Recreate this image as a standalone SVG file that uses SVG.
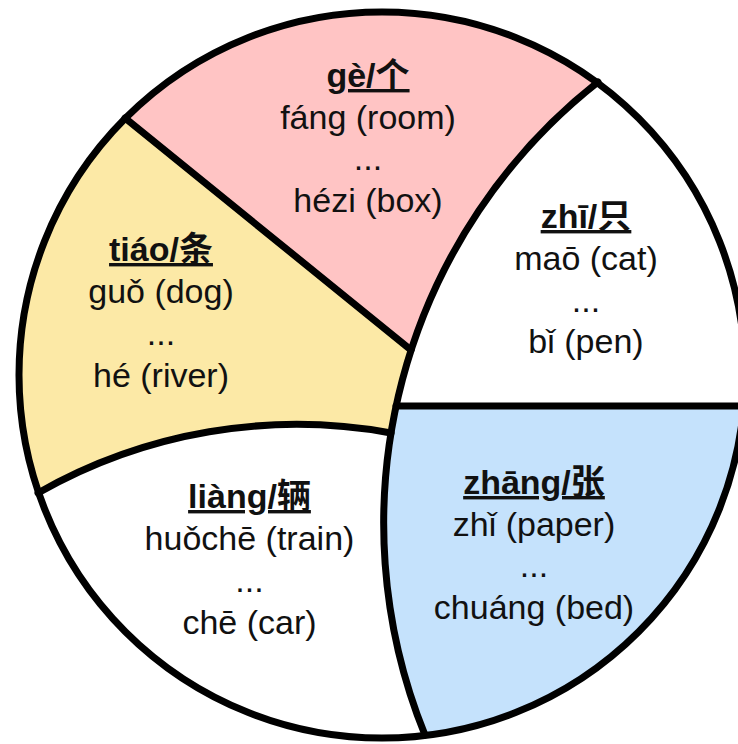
<svg xmlns="http://www.w3.org/2000/svg" width="738" height="744" viewBox="0 0 738 744">
<style>
text{font-family:"Liberation Sans","Noto Sans CJK SC",Arial,sans-serif;font-size:34px;fill:#111;text-anchor:middle}
.t{font-weight:bold;text-decoration:underline}
.div{fill:none;stroke:#000;stroke-width:7;stroke-linecap:round;stroke-linejoin:round}
</style>
<defs>
<clipPath id="disc"><circle cx="382" cy="375" r="363"/></clipPath>
</defs>
<rect width="738" height="744" fill="#fff"/>
<g clip-path="url(#disc)">
<g id="ge">
<path d="M125,118 L411,350 A562,562 0 0,1 598,82 L598,-20 L125,-20 Z" fill="#FFC4C4"/>
</g>
<g id="zhi">
<path d="M598,82 A562,562 0 0,0 396,406 L760,406 L760,-20 L598,-20 Z" fill="#FFFFFF"/>
</g>
<g id="zhang">
<path d="M396,406 A562,562 0 0,0 425,735 L425,760 L760,760 L760,406 Z" fill="#C5E2FC"/>
</g>
<g id="tiao">
<path d="M125,118 L411,350 A562,562 0 0,0 391,433 A522,522 0 0,0 38,493 L-20,493 L-20,118 Z" fill="#FCE9A6"/>
</g>
<g id="liang">
<path d="M38,493 A522,522 0 0,1 391,433 A562,562 0 0,0 425,735 L425,760 L-20,760 L-20,493 Z" fill="#FFFFFF"/>
</g>
</g>
<g id="connectors">
<line class="div" x1="125" y1="118" x2="411" y2="350"/>
<path class="div" d="M598,82 A562,562 0 0,0 425,735"/>
<line class="div" x1="396" y1="406" x2="750" y2="406"/>
<path class="div" d="M38,493 A522,522 0 0,1 391,433"/>
<circle class="div" cx="382" cy="375" r="363"/>
</g>
<g id="ge-text">
<text class="t" x="368" y="87">gè/个</text>
<text x="368" y="128.5">fáng (room)</text>
<text x="368" y="170">...</text>
<text x="368" y="211.5">hézi (box)</text>
</g>
<g id="zhi-text">
<text class="t" x="586" y="228">zhī/只</text>
<text x="586" y="270">maō (cat)</text>
<text x="586" y="311.5">...</text>
<text x="586" y="353">bǐ (pen)</text>
</g>
<g id="tiao-text">
<text class="t" x="161" y="261">tiáo/条</text>
<text x="161" y="303">guǒ (dog)</text>
<text x="161" y="345">...</text>
<text x="161" y="387">hé (river)</text>
</g>
<g id="liang-text">
<text class="t" x="249.5" y="508">liàng/辆</text>
<text x="249.5" y="550">huǒchē (train)</text>
<text x="249.5" y="592">...</text>
<text x="249.5" y="633.5">chē (car)</text>
</g>
<g id="zhang-text">
<text class="t" x="534" y="494">zhāng/张</text>
<text x="534" y="535.5">zhǐ (paper)</text>
<text x="534" y="577">...</text>
<text x="534" y="619">chuáng (bed)</text>
</g>
</svg>
